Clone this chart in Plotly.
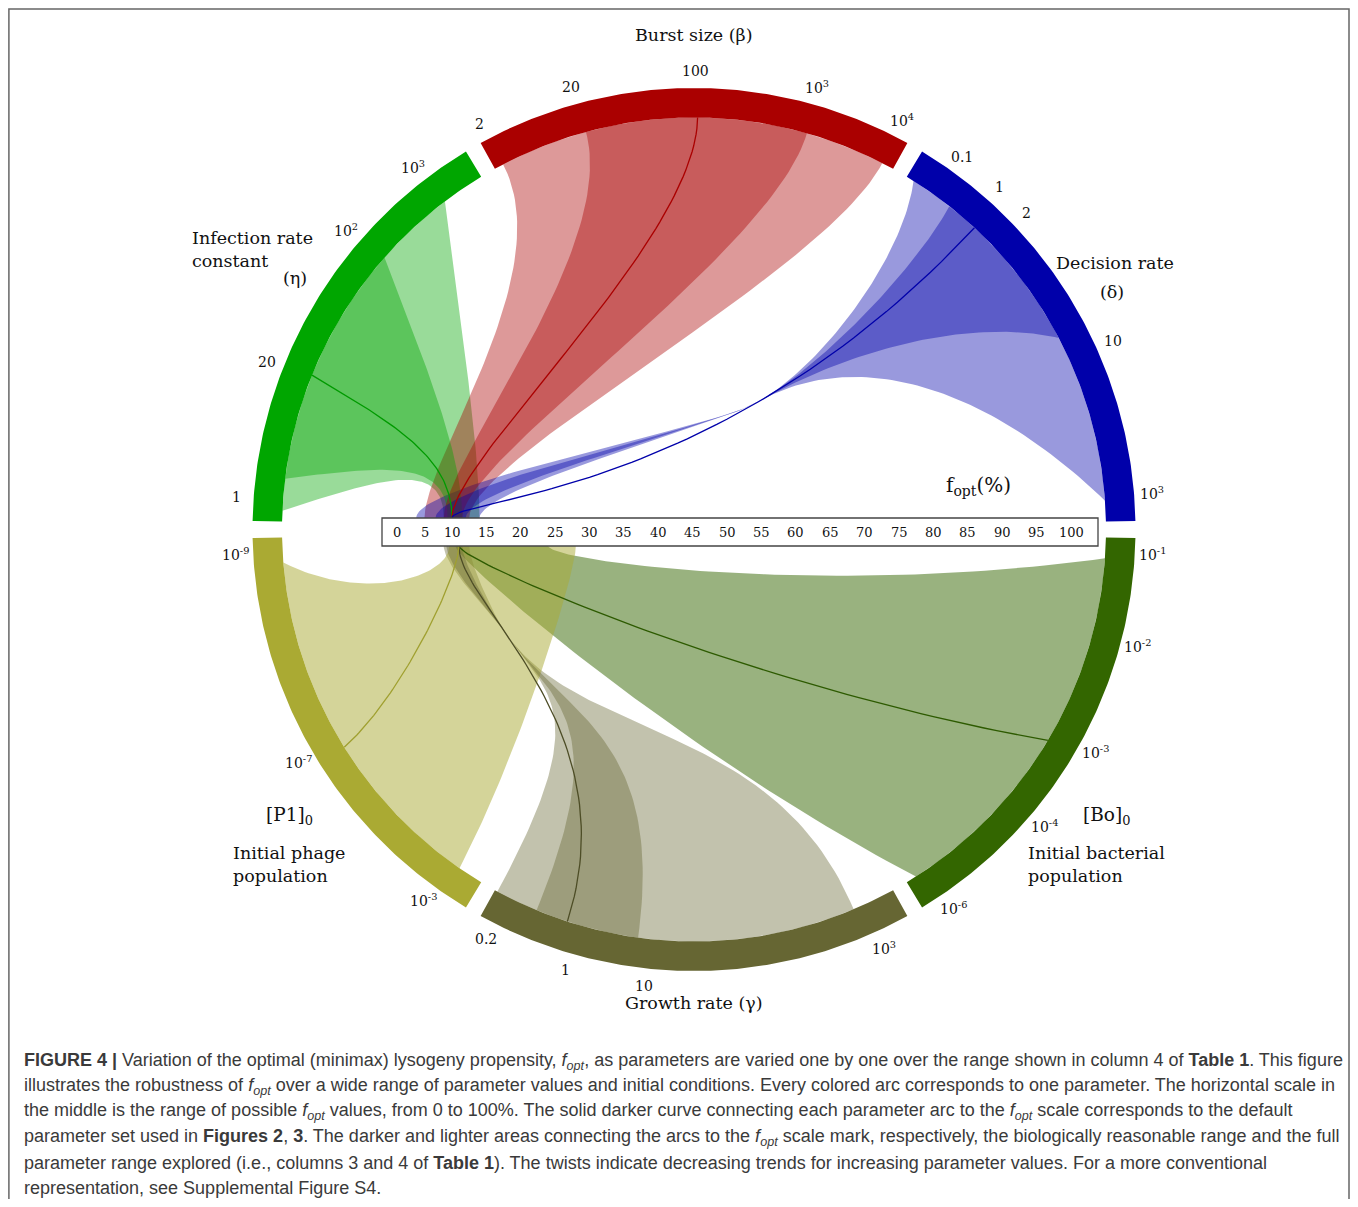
import numpy as np
import plotly.graph_objects as go

# ======================= DATA =======================
PARAMS = ["eta", "beta", "delta", "B0", "gamma", "P1"]

# Infection rate constant (eta)
ETA_TICKS = [1, 20, 100, 1000]
ETA_TICK_TEXT = ["1", "20", "10<sup>2</sup>", "10<sup>3</sup>"]
ETA_FULL = [1, 1000]
ETA_REASONABLE = [2, 100]
ETA_DEFAULT = 20
ETA_FOPT_FULL = [8.5, 14.0]          # fopt at low end / high end of range
ETA_FOPT_REASONABLE = [9.2, 11.5]
ETA_FOPT_DEFAULT = 10

# Burst size (beta)
BETA_TICKS = [2, 20, 100, 1000, 10000]
BETA_TICK_TEXT = ["2", "20", "100", "10<sup>3</sup>", "10<sup>4</sup>"]
BETA_FULL = [2, 10000]
BETA_REASONABLE = [20, 1000]
BETA_DEFAULT = 100
BETA_FOPT_FULL = [5.0, 12.5]
BETA_FOPT_REASONABLE = [8.5, 11.5]
BETA_FOPT_DEFAULT = 10

# Decision rate (delta)  -- decreasing trend (twist)
DELTA_TICKS = [0.1, 1, 2, 10, 1000]
DELTA_TICK_TEXT = ["0.1", "1", "2", "10", "10<sup>3</sup>"]
DELTA_FULL = [0.1, 1000]
DELTA_REASONABLE = [1, 10]
DELTA_DEFAULT = 2
DELTA_FOPT_FULL = [14.0, 3.5]
DELTA_FOPT_REASONABLE = [12.0, 7.0]
DELTA_FOPT_DEFAULT = 10

# Initial bacterial population [B0]0
B0_TICKS = [1e-6, 1e-4, 1e-3, 1e-2, 1e-1]
B0_TICK_TEXT = ["10<sup>-6</sup>", "10<sup>-4</sup>", "10<sup>-3</sup>",
                "10<sup>-2</sup>", "10<sup>-1</sup>"]
B0_FULL = [1e-6, 1e-1]
B0_REASONABLE = None
B0_DEFAULT = 1e-3
B0_FOPT_FULL = [10.5, 24.0]
B0_FOPT_REASONABLE = None
B0_FOPT_DEFAULT = 11

# Growth rate (gamma)  -- decreasing trend (twist)
GAMMA_TICKS = [0.2, 1, 10, 1000]
GAMMA_TICK_TEXT = ["0.2", "1", "10", "10<sup>3</sup>"]
GAMMA_FULL = [0.2, 1000]
GAMMA_REASONABLE = [0.5, 10]
GAMMA_DEFAULT = 1
GAMMA_FOPT_FULL = [12.5, 8.5]
GAMMA_FOPT_REASONABLE = [11.5, 9.0]
GAMMA_FOPT_DEFAULT = 11

# Initial phage population [P1]0
P1_TICKS = [1e-9, 1e-7, 1e-3]
P1_TICK_TEXT = ["10<sup>-9</sup>", "10<sup>-7</sup>", "10<sup>-3</sup>"]
P1_FULL = [1e-9, 1e-3]
P1_REASONABLE = None
P1_DEFAULT = 1e-7
P1_FOPT_FULL = [9.5, 28.0]
P1_FOPT_REASONABLE = None
P1_FOPT_DEFAULT = 11

FOPT_TICKS = list(range(0, 101, 5))

CAPTION_LINES = [
    "<b>FIGURE 4 |</b> Variation of the optimal (minimax) lysogeny propensity, <i>f<sub>opt</sub></i>, as parameters are varied one by one over the range shown in column 4 of <b>Table 1</b>. This figure",
    "illustrates the robustness of <i>f<sub>opt</sub></i> over a wide range of parameter values and initial conditions. Every colored arc corresponds to one parameter. The horizontal scale in",
    "the middle is the range of possible <i>f<sub>opt</sub></i> values, from 0 to 100%. The solid darker curve connecting each parameter arc to the <i>f<sub>opt</sub></i> scale corresponds to the default",
    "parameter set used in <b>Figures 2</b>, <b>3</b>. The darker and lighter areas connecting the arcs to the <i>f<sub>opt</sub></i> scale mark, respectively, the biologically reasonable range and the full",
    "parameter range explored (i.e., columns 3 and 4 of <b>Table 1</b>). The twists indicate decreasing trends for increasing parameter values. For a more conventional",
    "representation, see Supplemental Figure S4.",
]

DATA = {
    "eta": dict(ticks=ETA_TICKS, text=ETA_TICK_TEXT, full=ETA_FULL, reas=ETA_REASONABLE,
                dflt=ETA_DEFAULT, ffull=ETA_FOPT_FULL, freas=ETA_FOPT_REASONABLE, fdflt=ETA_FOPT_DEFAULT),
    "beta": dict(ticks=BETA_TICKS, text=BETA_TICK_TEXT, full=BETA_FULL, reas=BETA_REASONABLE,
                 dflt=BETA_DEFAULT, ffull=BETA_FOPT_FULL, freas=BETA_FOPT_REASONABLE, fdflt=BETA_FOPT_DEFAULT),
    "delta": dict(ticks=DELTA_TICKS, text=DELTA_TICK_TEXT, full=DELTA_FULL, reas=DELTA_REASONABLE,
                  dflt=DELTA_DEFAULT, ffull=DELTA_FOPT_FULL, freas=DELTA_FOPT_REASONABLE, fdflt=DELTA_FOPT_DEFAULT),
    "B0": dict(ticks=B0_TICKS, text=B0_TICK_TEXT, full=B0_FULL, reas=B0_REASONABLE,
               dflt=B0_DEFAULT, ffull=B0_FOPT_FULL, freas=B0_FOPT_REASONABLE, fdflt=B0_FOPT_DEFAULT),
    "gamma": dict(ticks=GAMMA_TICKS, text=GAMMA_TICK_TEXT, full=GAMMA_FULL, reas=GAMMA_REASONABLE,
                  dflt=GAMMA_DEFAULT, ffull=GAMMA_FOPT_FULL, freas=GAMMA_FOPT_REASONABLE, fdflt=GAMMA_FOPT_DEFAULT),
    "P1": dict(ticks=P1_TICKS, text=P1_TICK_TEXT, full=P1_FULL, reas=P1_REASONABLE,
               dflt=P1_DEFAULT, ffull=P1_FOPT_FULL, freas=P1_FOPT_REASONABLE, fdflt=P1_FOPT_DEFAULT),
}

# ======================= LAYOUT / SCALE GEOMETRY =======================
PAGE_MARGIN = 8                      # default body margin of the html page
W_PX, H_PX = 1358, 1207
CX, CY = 694.0, 529.5
R_IN, R_OUT, R_LABEL = 412.0, 441.5, 459.0
O = np.array([CX, CY])

ARC_SPAN = {"eta": (121.1, 178.9), "beta": (61.1, 118.9), "delta": (1.1, 58.9),
            "B0": (-58.9, -1.1), "gamma": (-118.9, -61.1), "P1": (-178.9, -121.1)}
# angular position (deg) of each tick value along its arc (arc axis definition)
ARC_TICK_ANGLE = {"eta": [177.4, 158.0, 138.7, 127.2],
                  "beta": [117.6, 105.2, 89.5, 74.1, 62.8],
                  "delta": [57.8, 51.7, 47.1, 27.7, 4.0],
                  "B0": [-57.4, -42.0, -30.8, -16.5, -4.0],
                  "gamma": [-118.5, -107.9, -97.8, -67.2],
                  "P1": [-175.4, -148.1, -124.7]}
LABEL_SHIFT = {"eta": 0.6, "beta": 0.3, "delta": -3.5, "B0": 1.8, "gamma": 1.6, "P1": -1.4}
UPPER = {"eta": True, "beta": True, "delta": True, "B0": False, "gamma": False, "P1": False}

COLOR = {"eta": (0, 166, 0), "beta": (170, 0, 0), "delta": (0, 0, 170),
         "B0": (51, 102, 0), "gamma": (102, 102, 51), "P1": (170, 170, 51)}
LINE_COLOR = {"eta": "#009a00", "beta": "#aa0000", "delta": "#0000aa",
              "B0": "#2d5a00", "gamma": "#4d4d26", "P1": "#a0a030"}
ALPHA = {"eta": 0.4, "beta": 0.4, "delta": 0.4, "B0": 0.5, "gamma": 0.4, "P1": 0.5}

# curve shaping (styles)
CURVE = {"eta": dict(a=0.6, m=1.0, k=60, h=60),
         "beta": dict(a=0.3, m=0.0, k=0, h=60),
         "delta": dict(a=0.9, m=0.0, k=0, h=20, s_w=0.29, s_hub=0.1, a1=0.6, mix=1.0, h2=0.1),
         "B0": dict(a=0.5, m=1.0, k=90, h=15),
         "gamma": dict(a=0.5, m=0.0, k=0, h=60, s_w=0.65, s_hub=0.15, a1=0.5, mix=0.0, h2=0.2),
         "P1": dict(a=0.5, m=1.0, k=100, h=30)}

FOPT_KNOT_V = [0, 10, 100]
FOPT_KNOT_X = [397, 452, 1071]
BOX = (382, 518, 1098, 546)
SERIF = "DejaVu Serif"
S = np.linspace(0, 1, 70)


def angle(p, v):
    return float(np.interp(np.log10(v), np.log10(DATA[p]["ticks"]), ARC_TICK_ANGLE[p]))


def arc_pt(theta, r=R_IN):
    t = np.radians(theta)
    return np.array([CX + r * np.cos(t), CY - r * np.sin(t)])


def fx(f):
    return float(np.interp(f, FOPT_KNOT_V, FOPT_KNOT_X))


def scale_pt(p, f):
    return np.array([fx(f), BOX[1] if UPPER[p] else BOX[3]])


def bez(P0, C1, C2, P3, s):
    s = np.atleast_1d(np.asarray(s, dtype=float))[:, None]
    return (1 - s) ** 3 * P0 + 3 * (1 - s) ** 2 * s * C1 + 3 * (1 - s) * s ** 2 * C2 + s ** 3 * P3


def bez_d(P0, C1, C2, P3, s):
    return 3 * ((1 - s) ** 2 * (C1 - P0) + 2 * (1 - s) * s * (C2 - C1) + s ** 2 * (P3 - C2))


def base_ctrl(p, P0, P3):
    st = CURVE[p]
    sgn = -1.0 if UPPER[p] else 1.0
    Q = P3 + np.array([0.0, sgn * st["k"]])
    C1 = P0 + st["a"] * ((1 - st["m"]) * (O - P0) + st["m"] * (Q - P0))
    return P0, C1, P3 + np.array([0.0, sgn * st["h"]]), P3


def curve(p, v, f):
    P0 = arc_pt(angle(p, v))
    P3 = scale_pt(p, f)
    st = CURVE[p]
    if "s_w" not in st:
        return bez(*base_ctrl(p, P0, P3), S)
    d_ = DATA[p]
    D = base_ctrl(p, arc_pt(angle(p, d_["dflt"])), scale_pt(p, d_["fdflt"]))
    W = bez(*D, st["s_w"])[0]
    d = bez_d(*D, st["s_w"])
    d = d / np.linalg.norm(d)
    hub = bez(*D, st["s_hub"])[0]
    C1 = P0 + st["a1"] * ((1 - st["mix"]) * (O - P0) + st["mix"] * (hub - P0))
    C2 = W - d * 0.3 * np.linalg.norm(W - P0)
    seg1 = bez(P0, C1, C2, W, S)
    L = np.linalg.norm(P3 - W)
    sgn = -1.0 if UPPER[p] else 1.0
    seg2 = bez(W, W + d * 0.15 * L, P3 + np.array([0.0, sgn * st["h2"] * L]), P3, S)
    return np.vstack([seg1, seg2[1:]])


def ribbon(p, vr, fr):
    th = np.linspace(angle(p, vr[0]), angle(p, vr[1]), 90)
    arc = np.array([arc_pt(t) for t in th])
    e_hi = curve(p, vr[1], fr[1])
    e_lo = curve(p, vr[0], fr[0])
    return np.vstack([arc, e_hi, e_lo[::-1]])


def rgba(c, a):
    return "rgba(%d,%d,%d,%.3f)" % (c[0], c[1], c[2], a)


fig = go.Figure()

# ribbons: full range, then reasonable range on top
for layer in ("full", "reas"):
    for p in PARAMS:
        d_ = DATA[p]
        vr = d_["full"] if layer == "full" else d_["reas"]
        fr = d_["ffull"] if layer == "full" else d_["freas"]
        if vr is None:
            continue
        poly = ribbon(p, vr, fr)
        fig.add_trace(go.Scatter(x=poly[:, 0], y=poly[:, 1], mode="lines", fill="toself",
                                 fillcolor=rgba(COLOR[p], ALPHA[p]), line=dict(width=0),
                                 hoverinfo="skip", showlegend=False))

# default parameter curves
for p in PARAMS:
    d_ = DATA[p]
    P0 = arc_pt(angle(p, d_["dflt"]))
    P3 = scale_pt(p, d_["fdflt"])
    pts = bez(*base_ctrl(p, P0, P3), S)
    fig.add_trace(go.Scatter(x=pts[:, 0], y=pts[:, 1], mode="lines",
                             line=dict(color=LINE_COLOR[p], width=1.3),
                             hoverinfo="skip", showlegend=False))

# coloured parameter arcs
for p in PARAMS:
    a0, a1 = ARC_SPAN[p]
    th = np.linspace(a0, a1, 120)
    outer = np.array([arc_pt(t, R_OUT) for t in th])
    inner = np.array([arc_pt(t, R_IN) for t in th[::-1]])
    poly = np.vstack([outer, inner, outer[:1]])
    fig.add_trace(go.Scatter(x=poly[:, 0], y=poly[:, 1], mode="lines", fill="toself",
                             fillcolor=rgba(COLOR[p], 1.0), line=dict(width=0),
                             hoverinfo="skip", showlegend=False))

annotations = []


def txt(x, y, t, size, xanchor="center", color="#111111", family=SERIF):
    annotations.append(dict(x=x, y=y, xref="x", yref="y", text=t, showarrow=False,
                            xanchor=xanchor, yanchor="middle",
                            font=dict(family=family, size=size, color=color)))


# arc tick labels
for p in PARAMS:
    d_ = DATA[p]
    for v, t in zip(d_["ticks"], d_["text"]):
        a = angle(p, v) + LABEL_SHIFT[p]
        lo, hi = ARC_SPAN[p]
        a = min(max(a, lo + 0.5), hi - 0.5)
        if abs(a) < 4.5:
            a = 4.5 if a >= 0 else -3.0
        if abs(a) > 176.0:
            a = 176.0 if a > 0 else -177.0
        x, y = arc_pt(a, R_LABEL)
        txt(x, y, t, 14)

# parameter titles
txt(694, 35, "Burst size (β)", 17.5)
txt(190, 238, "Infection rate", 17.5, "left")
txt(190, 261, "constant", 17.5, "left")
txt(295, 278, "(η)", 17.5)
txt(1115, 263, "Decision rate", 17.5)
txt(1112, 292, "(δ)", 17.5)
txt(1106, 816, "[Bo]<sub>0</sub>", 18.5)
txt(1026, 853, "Initial bacterial", 17.5, "left")
txt(1026, 876, "population", 17.5, "left")
txt(694, 1003, "Growth rate (γ)", 17.5)
txt(289, 816, "[P1]<sub>0</sub>", 18.5)
txt(231, 853, "Initial phage", 17.5, "left")
txt(231, 876, "population", 17.5, "left")
txt(978, 486, "f<sub>opt</sub>(%)", 20)

# fopt scale labels
for f in FOPT_TICKS:
    txt(fx(f), 532, str(f), 13)

# caption
for i, line in enumerate(CAPTION_LINES):
    txt(22, 1061 + i * 25.4, line, 18, "left", "#3a3a3a", "Liberation Sans")

# the html body has an 8 px margin: the figure is drawn that much smaller and its axis
# ranges start at the margin, so one axis unit equals one pixel of the page.
X0, X1 = PAGE_MARGIN, W_PX - PAGE_MARGIN
Y0, Y1 = PAGE_MARGIN, H_PX - PAGE_MARGIN

# frame: left, top and right sides (the bottom is outside the picture)
frame_path = "M %.1f %.1f L %.1f %.1f L %.1f %.1f L %.1f %.1f" % (
    X0 + 0.9, Y1 + 30, X0 + 0.9, Y0 + 0.9, X1 - 1.0, Y0 + 0.9, X1 - 1.0, Y1 + 30)

shapes = [
    dict(type="rect", xref="x", yref="y", x0=BOX[0], y0=BOX[1], x1=BOX[2], y1=BOX[3],
         fillcolor="white", line=dict(color="#444444", width=1.3), layer="above"),
    dict(type="path", xref="x", yref="y", path=frame_path,
         line=dict(color="#666666", width=1.5), layer="above"),
]

fig.update_layout(
    width=X1 - X0, height=Y1 - Y0, autosize=False,
    margin=dict(l=0, r=0, t=0, b=0, pad=0),
    paper_bgcolor="white", plot_bgcolor="white",
    xaxis=dict(range=[X0, X1], visible=False, fixedrange=True),
    yaxis=dict(range=[Y1, Y0], visible=False, fixedrange=True),
    showlegend=False, annotations=annotations, shapes=shapes,
)

fig.write_html("out.html")
